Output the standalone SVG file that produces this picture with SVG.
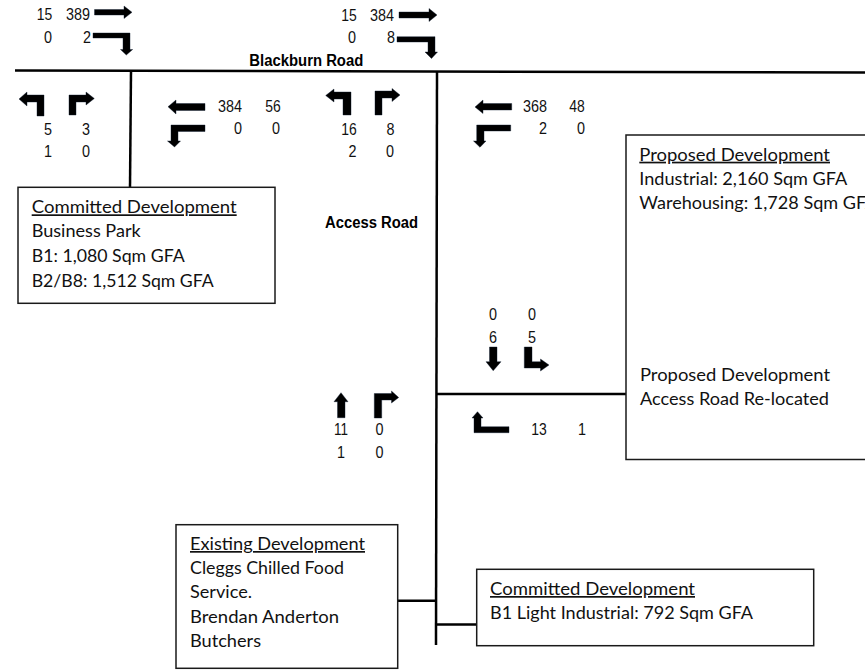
<svg xmlns="http://www.w3.org/2000/svg" width="865" height="672" viewBox="0 0 865 672">
<style>
.bg{fill:#fff}
.box{fill:#fff;stroke:#1a1a1a;stroke-width:1.5}
.road{stroke:#000;stroke-width:2.5;fill:none}
.t{font-family:Lato,"Noto Sans",sans-serif;font-size:17px;fill:#111}
.h{text-decoration:underline}
.n{font-family:"Liberation Sans",Arial,sans-serif;font-size:16.500px;fill:#111;text-anchor:middle}
.r{font-family:"Liberation Sans",Arial,sans-serif;font-size:16px;font-weight:bold;fill:#000}
.a{fill:#000;stroke:#0b1a30;stroke-width:.4}
</style>
<rect class="bg" width="865" height="672"/>
<g id="connectors">
<path class="road" d="M15 70.500L865 72.500"/>
<path class="road" d="M131 71L130 187"/>
<path class="road" d="M437 72L436 645"/>
<path class="road" d="M437 394H626"/>
<path class="road" d="M398 600.700H436"/>
<path class="road" d="M437 624.500H477"/>
</g>
<g id="arrows">
<path class="a" d="M94.500 9.500H124V6L132 12.300L124 18.500V15H94.500Z"/>
<path class="a" d="M93 33H130V49.500H132.700L126.300 55L120.500 49.500H123V38H93Z"/>
<path class="a" d="M205 103.500H176V100L168 106.700L176 114V110.500H205Z"/>
<path class="a" d="M205 125H171V141H167.500L174.500 147L180.500 141H178V131.500H205Z"/>
<path class="a" d="M44 116V95H27V92L19 99L27 106V102H37V116Z"/>
<path class="a" d="M69 115V95H86V92L94.300 98.500L86 105V102H76V115Z"/>
<path class="a" d="M399 12H429V8.500L437 15L429 21.500V18H399Z"/>
<path class="a" d="M397 36.700H435V52H437.500L431.500 58.500L425 52H428V42H397Z"/>
<path class="a" d="M351 115V92H334V89L325.700 95.500L334 102V99H343V115Z"/>
<path class="a" d="M375 115V91H392V88.500L400 95L392 101.500V98H382V115Z"/>
<path class="a" d="M511.700 103.500H483V100L475 107L483 113.500V110H511.700Z"/>
<path class="a" d="M510.700 125H476.700V141H473.500L480 147.300L486 141H484V131H510.700Z"/>
<path class="a" d="M489.500 347H497V361.700H501L493.200 370.700L486 361.700H489.500Z"/>
<path class="a" d="M524.300 347H532V361.700H540.500V359L549 365L540.500 371V368H524.300Z"/>
<path class="a" d="M337.500 417.700V401.700H334L341 392.700L348 401.700H345V417.700Z"/>
<path class="a" d="M374.300 418V393.500H391.500V391L398.700 397.500L391.500 403V400H381.700V418Z"/>
<path class="a" d="M474 432.700V418H472L477.500 411.700L483 418H481V426.700H509V432.700Z"/>
</g>
<g id="committed-business-park">
<rect class="box" x="18" y="187.300" width="257" height="116"/>
<text class="t h" x="31.700" y="213.300" textLength="205" lengthAdjust="spacingAndGlyphs">Committed Development</text>
<text class="t" x="31.700" y="237.300" textLength="109" lengthAdjust="spacingAndGlyphs">Business Park</text>
<text class="t" x="31.700" y="262" textLength="153" lengthAdjust="spacingAndGlyphs">B1: 1,080 Sqm GFA</text>
<text class="t" x="31.700" y="286.700" textLength="182" lengthAdjust="spacingAndGlyphs">B2/B8: 1,512 Sqm GFA</text>
</g>
<g id="proposed-development">
<rect class="box" x="626" y="135" width="260" height="324.500"/>
<text class="t h" x="639.300" y="160.700" textLength="190.700" lengthAdjust="spacingAndGlyphs">Proposed Development</text>
<text class="t" x="639.300" y="185" textLength="208" lengthAdjust="spacingAndGlyphs">Industrial: 2,160 Sqm GFA</text>
<text class="t" x="639.300" y="209.300" textLength="238" lengthAdjust="spacingAndGlyphs">Warehousing: 1,728 Sqm GFA</text>
<text class="t" x="640" y="380.700" textLength="190" lengthAdjust="spacingAndGlyphs">Proposed Development</text>
<text class="t" x="640" y="405" textLength="189" lengthAdjust="spacingAndGlyphs">Access Road Re-located</text>
</g>
<g id="existing-development">
<rect class="box" x="176" y="524.700" width="221.700" height="143.600"/>
<text class="t h" x="190" y="550" textLength="175" lengthAdjust="spacingAndGlyphs">Existing Development</text>
<text class="t" x="190" y="574.300" textLength="154" lengthAdjust="spacingAndGlyphs">Cleggs Chilled Food</text>
<text class="t" x="190" y="598" textLength="62" lengthAdjust="spacingAndGlyphs">Service.</text>
<text class="t" x="190" y="623" textLength="149" lengthAdjust="spacingAndGlyphs">Brendan Anderton</text>
<text class="t" x="190" y="647" textLength="71" lengthAdjust="spacingAndGlyphs">Butchers</text>
</g>
<g id="committed-light-industrial">
<rect class="box" x="476.700" y="569.300" width="337" height="76.400"/>
<text class="t h" x="490" y="595" textLength="205" lengthAdjust="spacingAndGlyphs">Committed Development</text>
<text class="t" x="490" y="619" textLength="263" lengthAdjust="spacingAndGlyphs">B1 Light Industrial: 792 Sqm GFA</text>
</g>
<g id="road-labels">
<text class="r" x="249.300" y="65.700" textLength="114" lengthAdjust="spacingAndGlyphs">Blackburn Road</text>
<text class="r" x="325" y="227.700" textLength="93" lengthAdjust="spacingAndGlyphs">Access Road</text>
</g>
<g id="counts">
<text class="n" x="44.500" y="20" textLength="15.500" lengthAdjust="spacingAndGlyphs">15</text>
<text class="n" x="78" y="20" textLength="24" lengthAdjust="spacingAndGlyphs">389</text>
<text class="n" x="48" y="43" textLength="8" lengthAdjust="spacingAndGlyphs">0</text>
<text class="n" x="87" y="43" textLength="8" lengthAdjust="spacingAndGlyphs">2</text>
<text class="n" x="48" y="135" textLength="8" lengthAdjust="spacingAndGlyphs">5</text>
<text class="n" x="86" y="135" textLength="8" lengthAdjust="spacingAndGlyphs">3</text>
<text class="n" x="48" y="157" textLength="8" lengthAdjust="spacingAndGlyphs">1</text>
<text class="n" x="86" y="157" textLength="8" lengthAdjust="spacingAndGlyphs">0</text>
<text class="n" x="230" y="112" textLength="24" lengthAdjust="spacingAndGlyphs">384</text>
<text class="n" x="273" y="112" textLength="15.500" lengthAdjust="spacingAndGlyphs">56</text>
<text class="n" x="238" y="134" textLength="8" lengthAdjust="spacingAndGlyphs">0</text>
<text class="n" x="276" y="134" textLength="8" lengthAdjust="spacingAndGlyphs">0</text>
<text class="n" x="349" y="20.500" textLength="15.500" lengthAdjust="spacingAndGlyphs">15</text>
<text class="n" x="382" y="20.500" textLength="24" lengthAdjust="spacingAndGlyphs">384</text>
<text class="n" x="352" y="43" textLength="8" lengthAdjust="spacingAndGlyphs">0</text>
<text class="n" x="391" y="43" textLength="8" lengthAdjust="spacingAndGlyphs">8</text>
<text class="n" x="349" y="135" textLength="15.500" lengthAdjust="spacingAndGlyphs">16</text>
<text class="n" x="390.500" y="135" textLength="8" lengthAdjust="spacingAndGlyphs">8</text>
<text class="n" x="352.500" y="157" textLength="8" lengthAdjust="spacingAndGlyphs">2</text>
<text class="n" x="390" y="157" textLength="8" lengthAdjust="spacingAndGlyphs">0</text>
<text class="n" x="535" y="112" textLength="24" lengthAdjust="spacingAndGlyphs">368</text>
<text class="n" x="577" y="112" textLength="15.500" lengthAdjust="spacingAndGlyphs">48</text>
<text class="n" x="543" y="134" textLength="8" lengthAdjust="spacingAndGlyphs">2</text>
<text class="n" x="581" y="134" textLength="8" lengthAdjust="spacingAndGlyphs">0</text>
<text class="n" x="493" y="320" textLength="8" lengthAdjust="spacingAndGlyphs">0</text>
<text class="n" x="532" y="320" textLength="8" lengthAdjust="spacingAndGlyphs">0</text>
<text class="n" x="493" y="343" textLength="8" lengthAdjust="spacingAndGlyphs">6</text>
<text class="n" x="532" y="343" textLength="8" lengthAdjust="spacingAndGlyphs">5</text>
<text class="n" x="341" y="435" textLength="14" lengthAdjust="spacingAndGlyphs">11</text>
<text class="n" x="379.500" y="435" textLength="8" lengthAdjust="spacingAndGlyphs">0</text>
<text class="n" x="341" y="458" textLength="8" lengthAdjust="spacingAndGlyphs">1</text>
<text class="n" x="379.500" y="458" textLength="8" lengthAdjust="spacingAndGlyphs">0</text>
<text class="n" x="539" y="435" textLength="15.500" lengthAdjust="spacingAndGlyphs">13</text>
<text class="n" x="582" y="435" textLength="8" lengthAdjust="spacingAndGlyphs">1</text>
</g>
</svg>
